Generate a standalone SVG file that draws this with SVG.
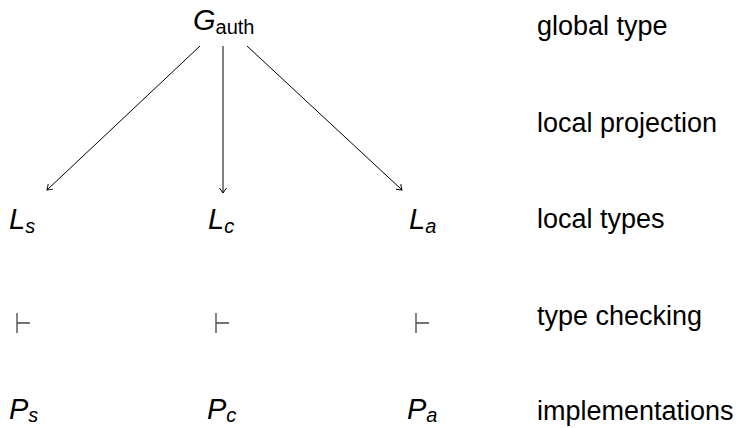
<svg xmlns="http://www.w3.org/2000/svg" width="738" height="428" viewBox="0 0 738 428">
<style>
text{font-family:"Liberation Sans",Arial,sans-serif;fill:#000}
.m{font-style:italic;font-size:29px}
.sub{font-style:italic;font-size:20px}
.up{font-style:normal;font-size:20px}
.lbl{font-size:27px}
.edge{stroke:#000;stroke-width:1;fill:none}
.tee{stroke:#444;stroke-width:1.3;fill:none}
</style>
<defs>
<marker id="ah" viewBox="-6 -4 8 8" refX="0" refY="0" markerWidth="8" markerHeight="8" markerUnits="userSpaceOnUse" orient="auto">
<path d="M-5,-3.5 Q-1.5,-1 0,0 Q-1.5,1 -5,3.5" fill="none" stroke="#000" stroke-width="1"/>
</marker>
</defs>
<g id="edges">
<line class="edge" x1="200" y1="46" x2="47" y2="190" marker-end="url(#ah)"/>
<line class="edge" x1="223" y1="46" x2="223" y2="193" marker-end="url(#ah)"/>
<line class="edge" x1="247" y1="46" x2="402" y2="190" marker-end="url(#ah)"/>
</g>
<g id="G_auth"><text x="193" y="30" class="m">G<tspan class="up" dy="4">auth</tspan></text></g>
<g id="L_s"><text x="9" y="229" class="m">L<tspan class="sub" dy="4">s</tspan></text></g>
<g id="L_c"><text x="208" y="229" class="m">L<tspan class="sub" dy="4">c</tspan></text></g>
<g id="L_a"><text x="409" y="229" class="m">L<tspan class="sub" dy="4">a</tspan></text></g>
<g id="T_s"><path class="tee" d="M17,313V333M17,323H30"/></g>
<g id="T_c"><path class="tee" d="M216,313V333M216,323H229"/></g>
<g id="T_a"><path class="tee" d="M416,313V333M416,323H429"/></g>
<g id="P_s"><text x="9" y="419" class="m">P<tspan class="sub" dy="3">s</tspan></text></g>
<g id="P_c"><text x="207" y="419" class="m">P<tspan class="sub" dy="3">c</tspan></text></g>
<g id="P_a"><text x="407" y="419" class="m">P<tspan class="sub" dy="3">a</tspan></text></g>
<g id="labels">
<text x="537" y="35" class="lbl">global type</text>
<text x="537" y="132" class="lbl">local projection</text>
<text x="537" y="228" class="lbl">local types</text>
<text x="537" y="325" class="lbl">type checking</text>
<text x="537" y="420" class="lbl">implementations</text>
</g>
</svg>
